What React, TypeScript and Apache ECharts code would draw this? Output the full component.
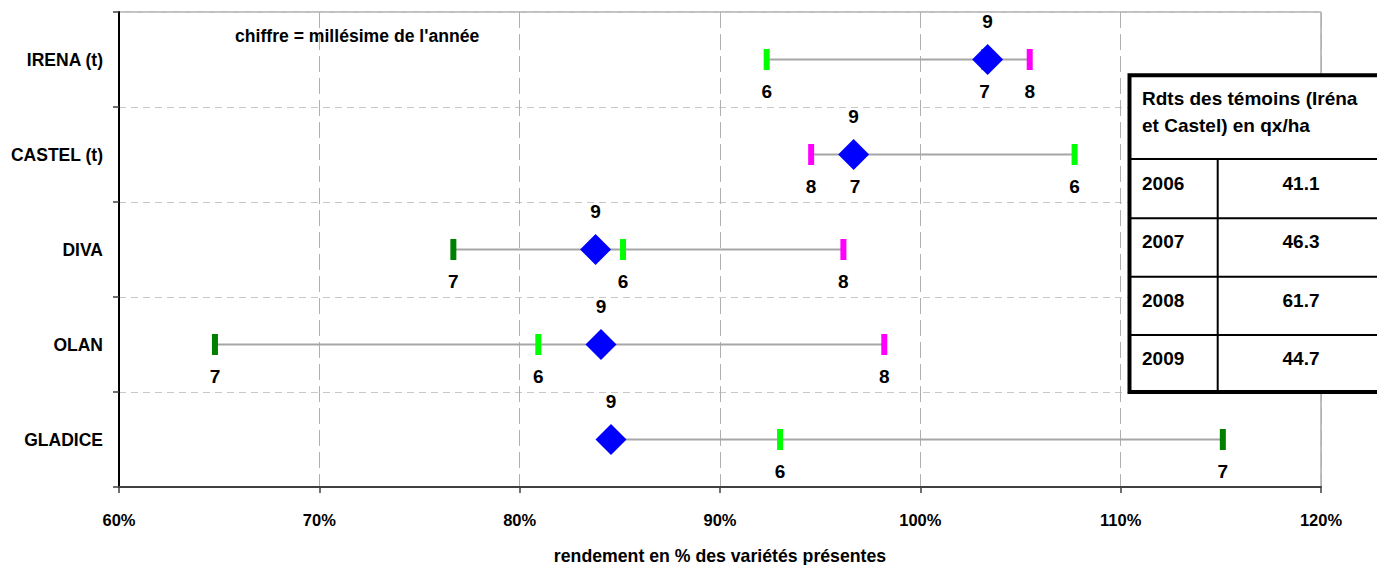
import React, { useEffect, useRef } from "react";
import * as echarts from "echarts";

const categories = ["IRENA (t)", "CASTEL (t)", "DIVA", "OLAN", "GLADICE"];
const y2006 = [92.33, 107.7, 85.16, 80.93, 93.0];
const y2007 = [103.2, 96.74, 76.69, 64.79, 115.1];
const y2008: (number | null)[] = [105.46, 94.55, 96.16, 98.2, null];
const y2009 = [103.36, 96.67, 83.79, 84.06, 84.56];
const xTicks = { min: 60, max: 120, interval: 10 };
const tableYears = ["2006", "2007", "2008", "2009"];
const tableValues = ["41.1", "46.3", "61.7", "44.7"];
const tableTitle = ["Rdts des témoins (Iréna", "et Castel) en qx/ha"];
const noteText = "chiffre = millésime de l'année";
const xAxisName = "rendement en % des variétés présentes";

const FONT = "'Liberation Sans', Arial, sans-serif";

export default function App() {
  const ref = useRef<HTMLDivElement>(null);
  useEffect(() => {
    if (!ref.current) return;
    const chart = echarts.init(ref.current, null, { renderer: "svg" });

    const rangeData = categories.map((_, i) => {
      const vals = [y2006[i], y2007[i], y2008[i], y2009[i]].filter(
        (v) => v !== null
      ) as number[];
      return [Math.min(...vals), Math.max(...vals), i];
    });

    const yearSeries = (
      name: string,
      data: (number | null)[],
      color: string,
      label: string
    ) => ({
      type: "scatter",
      name,
      data: data.map((v, i) => (v === null ? null : [v, i])).filter((d) => d !== null),
      symbol: "rect",
      symbolSize: [6, 21],
      itemStyle: { color, opacity: 1 },
      z: 3,
      label: {
        show: true,
        position: "bottom",
        distance: 12,
        formatter: label,
        fontFamily: FONT,
        fontWeight: "bold",
        fontSize: 19,
        color: "#000",
      },
    });

    const tX = 1129.5;
    const rowLines = [159, 218.3, 276.7, 335];
    const yearCenters = [183.3, 241.7, 300.7, 358.3];

    const graphic: any[] = [
      {
        type: "text",
        x: 235,
        y: 36,
        style: {
          text: noteText,
          font: `bold 17.6px ${FONT}`,
          fill: "#000",
          verticalAlign: "middle",
        },
      },
      {
        type: "group",
        z: 100,
        children: [
          {
            type: "rect",
            shape: { x: tX, y: 75.3, width: 270, height: 316.7 },
            style: { fill: "#fff", stroke: "#000", lineWidth: 4 },
            z: 100,
          },
          ...rowLines.map((y) => ({
            type: "line",
            shape: { x1: tX, y1: y, x2: 1400, y2: y },
            style: { stroke: "#000", lineWidth: 2 },
            z: 101,
          })),
          {
            type: "line",
            shape: { x1: 1217.7, y1: 159, x2: 1217.7, y2: 392 },
            style: { stroke: "#000", lineWidth: 2 },
            z: 101,
          },
          ...tableTitle.map((t, i) => ({
            type: "text",
            x: 1142,
            y: 98.5 + i * 27,
            style: {
              text: t,
              font: `bold 19px ${FONT}`,
              fill: "#000",
              verticalAlign: "middle",
              align: "left",
            },
            z: 102,
          })),
          ...tableYears.map((t, i) => ({
            type: "text",
            x: 1142,
            y: yearCenters[i],
            style: {
              text: t,
              font: `bold 19px ${FONT}`,
              fill: "#000",
              verticalAlign: "middle",
              align: "left",
            },
            z: 102,
          })),
          ...tableValues.map((t, i) => ({
            type: "text",
            x: 1301,
            y: yearCenters[i],
            style: {
              text: t,
              font: `bold 19px ${FONT}`,
              fill: "#000",
              verticalAlign: "middle",
              align: "center",
            },
            z: 102,
          })),
        ],
      },
    ];

    chart.setOption({
      animation: false,
      grid: {
        left: 119,
        right: 56,
        top: 12,
        bottom: 78,
        containLabel: false,
        outerBoundsMode: "none",
        show: true,
        borderColor: "#808080",
        borderWidth: 1,
        backgroundColor: "transparent",
      },
      xAxis: {
        type: "value",
        min: xTicks.min,
        max: xTicks.max,
        interval: xTicks.interval,
        name: xAxisName,
        nameLocation: "middle",
        nameGap: 60,
        nameTextStyle: {
          fontFamily: FONT,
          fontWeight: "bold",
          fontSize: 17.7,
          color: "#000",
        },
        axisLine: { show: true, lineStyle: { color: "#404040", width: 2 } },
        axisTick: { show: true, length: 6, lineStyle: { color: "#404040", width: 1.5 } },
        axisLabel: {
          formatter: "{value}%",
          margin: 24,
          fontFamily: FONT,
          fontWeight: "bold",
          fontSize: 16.5,
          color: "#000",
        },
        splitLine: {
          show: true,
          lineStyle: { color: "#b0b0b0", type: [16, 6], width: 1 },
        },
      },
      yAxis: {
        type: "category",
        data: categories,
        inverse: true,
        axisLine: { show: true, lineStyle: { color: "#000", width: 2 } },
        axisTick: { show: true, length: 6, lineStyle: { color: "#404040", width: 1.5 } },
        axisLabel: {
          margin: 16,
          fontFamily: FONT,
          fontWeight: "bold",
          fontSize: 17.5,
          color: "#000",
        },
        splitLine: {
          show: true,
          lineStyle: { color: "#c8c8c8", type: [7, 5], width: 1 },
        },
      },
      series: [
        {
          type: "custom",
          name: "range",
          data: rangeData,
          encode: { x: [0, 1], y: 2 },
          z: 2,
          renderItem: (params: any, api: any) => {
            const lo = api.coord([api.value(0), api.value(2)]);
            const hi = api.coord([api.value(1), api.value(2)]);
            return {
              type: "line",
              shape: { x1: lo[0], y1: lo[1], x2: hi[0], y2: hi[1] },
              style: { stroke: "#a6a6a6", lineWidth: 2 },
            };
          },
        },
        yearSeries("2006", y2006, "#00ff00", "6"),
        yearSeries("2007", y2007, "#008000", "7"),
        yearSeries("2008", y2008, "#ff00ff", "8"),
        {
          type: "scatter",
          name: "2009",
          data: y2009.map((v, i) => [v, i]),
          symbol: "diamond",
          symbolSize: 31,
          itemStyle: { color: "#0000ff", opacity: 1 },
          z: 4,
          label: {
            show: true,
            position: "top",
            distance: 13,
            formatter: "9",
            fontFamily: FONT,
            fontWeight: "bold",
            fontSize: 19,
            color: "#000",
          },
        },
      ],
      graphic,
    });
    return () => chart.dispose();
  }, []);

  return (
    <div
      ref={ref}
      style={{ position: "fixed", left: 0, top: 0, width: 1377, height: 565, background: "#fff" }}
    />
  );
}
